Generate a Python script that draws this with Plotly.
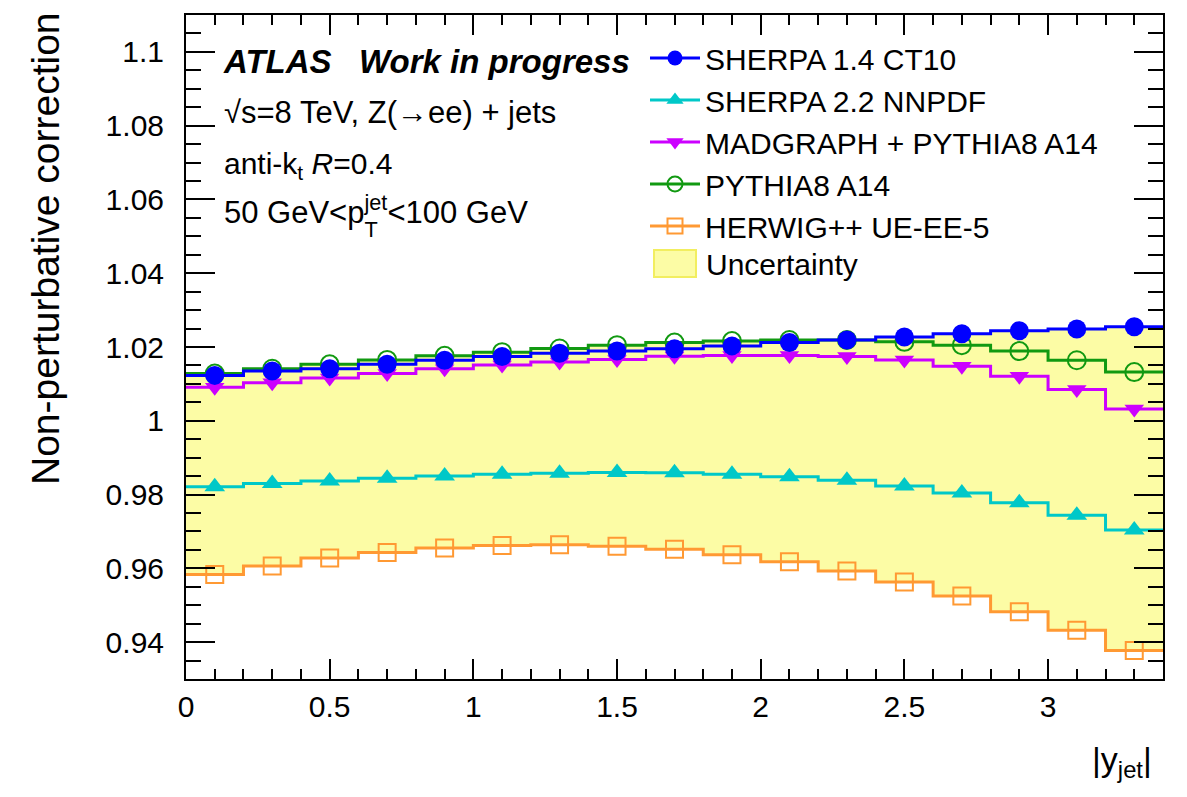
import plotly.graph_objects as go

# ---------------- data ----------------
bin_edges = [0.0, 0.2, 0.4, 0.6, 0.8, 1.0, 1.2, 1.4, 1.6, 1.8, 2.0, 2.2, 2.4, 2.6, 2.8, 3.0, 3.2, 3.4]
bin_centers = [0.1, 0.3, 0.5, 0.7, 0.9, 1.1, 1.3, 1.5, 1.7, 1.9, 2.1, 2.3, 2.5, 2.7, 2.9, 3.1, 3.3]

sherpa14 = [1.0123, 1.0135, 1.0141, 1.0153, 1.0164, 1.0174, 1.0183, 1.0189, 1.0195,
            1.0203, 1.0212, 1.0219, 1.0227, 1.0236, 1.0244, 1.0249, 1.0255]
sherpa22 = [0.9821, 0.9830, 0.9837, 0.9844, 0.9850, 0.9855, 0.9858, 0.9860, 0.9859,
            0.9855, 0.9848, 0.9839, 0.9823, 0.9804, 0.9778, 0.9744, 0.9704]
madgraph = [1.0091, 1.0103, 1.0116, 1.0128, 1.0141, 1.0151, 1.0159, 1.0166, 1.0175,
            1.0177, 1.0177, 1.0174, 1.0165, 1.0148, 1.0121, 1.0085, 1.0032]
pythia = [1.0128, 1.0141, 1.0153, 1.0165, 1.0176, 1.0186, 1.0196, 1.0205, 1.0212,
          1.0216, 1.0219, 1.0219, 1.0214, 1.0205, 1.0189, 1.0164, 1.0132]
herwig = [0.9583, 0.9606, 0.9628, 0.9643, 0.9655, 0.9662, 0.9664, 0.9660, 0.9652,
          0.9637, 0.9618, 0.9593, 0.9563, 0.9525, 0.9482, 0.9432, 0.9377]

series_names = ["SHERPA 1.4 CT10", "SHERPA 2.2 NNPDF", "MADGRAPH + PYTHIA8 A14",
                "PYTHIA8 A14", "HERWIG++ UE-EE-5"]
band_name = "Uncertainty"

y_tickvals = [0.94, 0.96, 0.98, 1.0, 1.02, 1.04, 1.06, 1.08, 1.1]
y_ticktext = ["0.94", "0.96", "0.98", "1", "1.02", "1.04", "1.06", "1.08", "1.1"]
x_tickvals = [0, 0.5, 1, 1.5, 2, 2.5, 3]
x_ticktext = ["0", "0.5", "1", "1.5", "2", "2.5", "3"]

# ---------------- styling ----------------
FONT = "Liberation Sans, Arial, Helvetica, sans-serif"
W, H = 1187, 797
ML, MR, MT, MB = 186, 24, 15, 118

styles = {
    "SHERPA 1.4 CT10": dict(color="#0000ff", symbol="circle", size=19, lw=0),
    "SHERPA 2.2 NNPDF": dict(color="#00c8c8", symbol="triangle-up", size=18, lw=0),
    "MADGRAPH + PYTHIA8 A14": dict(color="#cc00ff", symbol="triangle-down", size=17, lw=0),
    "PYTHIA8 A14": dict(color="#119911", symbol="circle-open", size=18, lw=2),
    "HERWIG++ UE-EE-5": dict(color="#ff9933", symbol="square-open", size=17, lw=2),
}
data_by_name = {
    "SHERPA 1.4 CT10": sherpa14,
    "SHERPA 2.2 NNPDF": sherpa22,
    "MADGRAPH + PYTHIA8 A14": madgraph,
    "PYTHIA8 A14": pythia,
    "HERWIG++ UE-EE-5": herwig,
}

fig = go.Figure()

# uncertainty envelope (built from the series)
all_series = [sherpa14, sherpa22, madgraph, pythia, herwig]
band_lo = [min(v) for v in zip(*all_series)]
band_hi = [max(v) for v in zip(*all_series)]
BAND = "rgb(252,252,165)"
fig.add_trace(go.Scatter(x=bin_edges, y=band_lo + [band_lo[-1]], mode="lines",
                         line=dict(width=0, shape="hv", color=BAND),
                         showlegend=False, hoverinfo="skip"))
fig.add_trace(go.Scatter(x=bin_edges, y=band_hi + [band_hi[-1]], mode="lines",
                         line=dict(width=0, shape="hv", color=BAND),
                         fill="tonexty", fillcolor=BAND, name=band_name,
                         showlegend=False, hoverinfo="skip"))

# draw order: herwig, pythia, madgraph, sherpa2.2, sherpa1.4 (on top)
draw_order = ["HERWIG++ UE-EE-5", "PYTHIA8 A14", "MADGRAPH + PYTHIA8 A14",
              "SHERPA 2.2 NNPDF", "SHERPA 1.4 CT10"]
for name in draw_order:
    st = styles[name]
    vals = data_by_name[name]
    fig.add_trace(go.Scatter(x=bin_edges, y=vals + [vals[-1]], mode="lines",
                             line=dict(color=st["color"], width=3, shape="hv"),
                             showlegend=False, hoverinfo="skip"))
    fig.add_trace(go.Scatter(x=bin_centers, y=vals, mode="markers",
                             marker=dict(color=st["color"], symbol=st["symbol"], size=st["size"],
                                         line=dict(color=st["color"], width=st["lw"])),
                             showlegend=False, name=name))

# legend-only entries
for rank, name in enumerate(series_names):
    st = styles[name]
    fig.add_trace(go.Scatter(x=[None], y=[None], mode="lines+markers", name=name,
                             line=dict(color=st["color"], width=3),
                             marker=dict(color=st["color"], symbol=st["symbol"], size=15,
                                         line=dict(color=st["color"], width=st["lw"])),
                             legendrank=rank + 1))

def px_x(px):
    return (px - ML) / (W - ML - MR)

def px_y(py):
    return (H - MB - py) / (H - MT - MB)

CLEAR = "rgba(0,0,0,0)"
annotations = [
    dict(text="<b><i>ATLAS\u00a0\u00a0 Work in progress</i></b>", x=px_x(221), y=px_y(62),
         xanchor="left", yanchor="middle", font=dict(size=33)),
    dict(text="\u221as=8 TeV, Z(\u2192ee) + jets", x=px_x(222), y=px_y(113),
         xanchor="left", yanchor="middle", font=dict(size=31)),
    dict(text="anti-k<sub>t</sub> <i>R</i>=0.4", x=px_x(222), y=px_y(145),
         xanchor="left", yanchor="top", font=dict(size=30)),
    dict(text="50 GeV<p<sup>jet</sup><100 GeV", x=px_x(222), y=px_y(188),
         xanchor="left", yanchor="top", font=dict(size=31)),
    dict(text=("<span style='color:%s'>50 GeV<p</span><sub>T</sub>"
               "<sup><span style='color:%s'>jet</span></sup>") % (CLEAR, CLEAR),
         x=px_x(222), y=px_y(195), xanchor="left", yanchor="top", font=dict(size=31)),
    dict(text="Non-perturbative correction", x=px_x(45), y=px_y(249), textangle=-90,
         xanchor="center", yanchor="middle", font=dict(size=39)),
    dict(text="|y<sub>jet</sub>|", x=px_x(1154), y=px_y(738), xanchor="right",
         yanchor="top", font=dict(size=34)),
    dict(text=band_name, x=px_x(704), y=px_y(264), xanchor="left", yanchor="middle",
         font=dict(size=30)),
]
for a in annotations:
    a.update(xref="paper", yref="paper", showarrow=False)
    a["font"]["family"] = FONT
    a["font"]["color"] = "black"

shapes = [
    dict(type="rect", xref="paper", yref="paper",
         x0=px_x(654), x1=px_x(696), y0=px_y(250), y1=px_y(277),
         fillcolor=BAND, line=dict(color="#f2ee60", width=2)),
]

axis_common = dict(showline=True, linecolor="black", linewidth=2, mirror="ticks",
                   ticks="inside", tickcolor="black", tickwidth=2, showgrid=False,
                   zeroline=False, tickfont=dict(size=30, family=FONT, color="black"))

fig.update_layout(
    width=W, height=H,
    margin=dict(l=ML, r=MR, t=MT, b=MB, autoexpand=False),
    paper_bgcolor="white", plot_bgcolor="white",
    font=dict(family=FONT, color="black"),
    showlegend=True,
    legend=dict(x=px_x(645), y=px_y(32), xanchor="left", yanchor="top",
                bgcolor="rgba(0,0,0,0)", traceorder="normal",
                font=dict(size=30, family=FONT, color="black"),
                itemwidth=50, tracegroupgap=0),
    xaxis=dict(range=[0, 3.4], tickvals=x_tickvals, ticktext=x_ticktext, ticklen=20,
               ticklabelstandoff=0,
               minor=dict(dtick=0.1, ticklen=10, ticks="inside", tickcolor="black", tickwidth=2),
               **axis_common),
    yaxis=dict(range=[0.93, 1.11], tickvals=y_tickvals, ticktext=y_ticktext, ticklen=29,
               ticklabelstandoff=14,
               minor=dict(dtick=0.005, tick0=0.93, ticklen=15, ticks="inside", tickcolor="black", tickwidth=2),
               **axis_common),
    annotations=annotations,
    shapes=shapes,
)

fig.write_html("out.html")
